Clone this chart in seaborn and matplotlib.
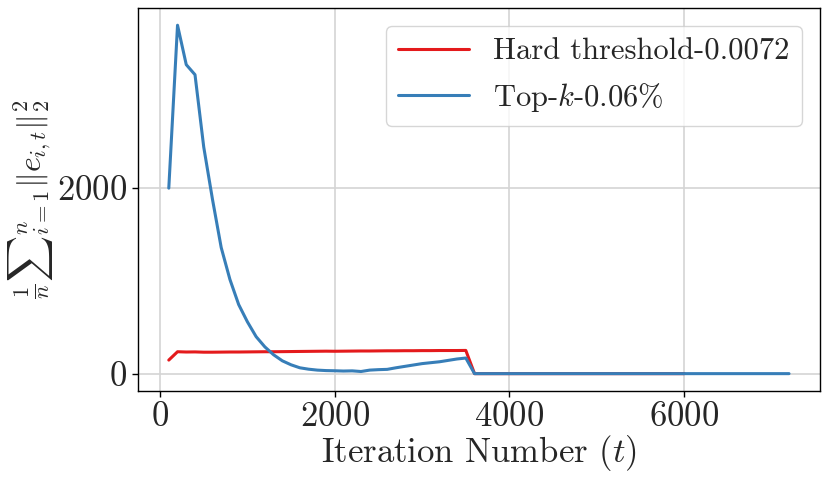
import matplotlib
matplotlib.use("Agg")
import matplotlib.pyplot as plt
import seaborn as sns
import pandas as pd

# iterations (t)
hard_iters = list(range(100, 6001, 100))
topk_iters = list(range(100, 7201, 100))

# hard threshold-0.0072 error norm
hard_vals = ([148, 238, 235, 236, 233, 233, 234, 235, 235, 236, 237, 238, 238, 239,
              240, 241, 242, 243, 244, 243, 244, 245, 246, 246, 247, 248, 248, 249,
              249, 250, 250, 251, 251, 251, 252]
             + [2] * 25)

# top-k-0.06% error norm
topk_vals = ([2000, 3755, 3330, 3222, 2443, 1880, 1360, 1016, 746, 560, 400, 290,
              205, 140, 97, 65, 50, 40, 35, 33, 30, 32, 25, 40, 45, 48, 65, 80,
              95, 110, 120, 130, 145, 160, 170]
             + [2] * 37)

hard_df = pd.DataFrame({"t": hard_iters, "err": hard_vals})
topk_df = pd.DataFrame({"t": topk_iters, "err": topk_vals})

sns.set_theme(style="whitegrid")
plt.rcParams["font.family"] = "serif"
plt.rcParams["font.serif"] = ["cmr10"]
plt.rcParams["mathtext.fontset"] = "cm"
plt.rcParams["axes.formatter.use_mathtext"] = True
plt.rcParams["axes.unicode_minus"] = False

fig, ax = plt.subplots(figsize=(8.3, 4.87), dpi=100)
sns.lineplot(data=hard_df, x="t", y="err", ax=ax, color="#e41a1c", linewidth=2.2,
             label="Hard threshold-0.0072")
sns.lineplot(data=topk_df, x="t", y="err", ax=ax, color="#377eb8", linewidth=2.2,
             label="Top-$k$-0.06%")

ax.set_xticks([0, 2000, 4000, 6000])
ax.set_yticks([0, 2000])
ax.tick_params(labelsize=25, length=4, width=1, color="black", bottom=True, left=True)
ax.set_xlabel("Iteration Number ($t$)", fontsize=25, labelpad=0)
ax.set_ylabel(r"$\frac{1}{n}{\sum}_{i=1}^{n}\|e_{i,t}\|_2^2$", fontsize=23, labelpad=2)
for s in ax.spines.values():
    s.set_color("black")
    s.set_linewidth(1)
ax.grid(color="#d4d4d4", linewidth=1.2)
ax.legend(loc="upper right", fontsize=22, frameon=True, handlelength=2.3,
          borderaxespad=0.6)

fig.subplots_adjust(left=0.166, right=0.988, top=0.984, bottom=0.197)
fig.savefig("out.png", dpi=100)
